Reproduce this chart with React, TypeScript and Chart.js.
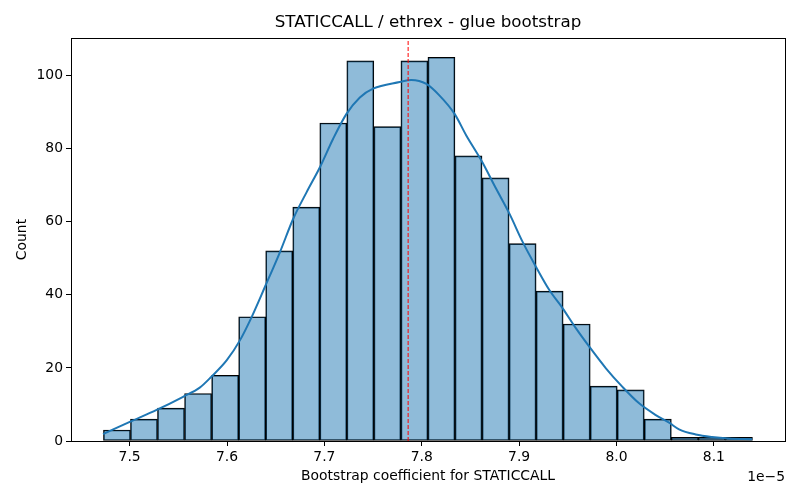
import React, { useEffect, useRef } from 'react';
import Chart from 'chart.js/auto';

// values are in units of 1e-5 (the axis offset text)
const binEdges = [
  7.4731, 7.5009, 7.5286, 7.5564, 7.5842, 7.612, 7.6397, 7.6675, 7.6953, 7.723,
  7.7508, 7.7786, 7.8063, 7.8341, 7.8619, 7.8897, 7.9174, 7.9452, 7.973, 8.0007,
  8.0285, 8.0563, 8.084, 8.1118, 8.1396,
];
const binCounts = [
  3, 6, 9, 13, 18, 34, 52, 64, 87, 104, 86, 104, 105, 78, 72, 54, 41, 32, 15, 14, 6, 1, 1, 1,
];

const kdeX = [
  7.4727, 7.5007, 7.5277, 7.5549, 7.572, 7.584, 7.5998, 7.6134, 7.6237, 7.639,
  7.6544, 7.668, 7.6818, 7.6954, 7.709, 7.7227, 7.7364, 7.75, 7.7774, 7.7893,
  7.8047, 7.8183, 7.8337, 7.8457, 7.8611, 7.8764, 7.89, 7.9037, 7.9174, 7.931,
  7.9447, 7.9584, 7.972, 7.9891, 8.0061, 8.0232, 8.0403, 8.054, 8.0642, 8.0813,
  8.098, 8.1155, 8.1393,
];
const kdeY = [
  1.9, 5.3, 8.5, 12.1, 14.6, 17.6, 22.1, 27.6, 33, 42.2,
  51.7, 60.8, 68.1, 74.9, 82.7, 89.5, 94, 96.4, 98.2, 98.8,
  97.7, 94.5, 89.5, 83.6, 76.8, 69, 62.2, 54.4, 47.6, 41.3,
  36.3, 30.8, 25.8, 19.9, 14.8, 10.3, 7.1, 5.0, 3.2, 1.8,
  1.1, 0.7, 0.5,
];

const meanValue = 7.786;

const xTicks = [7.5, 7.6, 7.7, 7.8, 7.9, 8.0, 8.1];
const yTicks = [0, 20, 40, 60, 80, 100];

const FONT = 'DejaVu Sans';

const framePlugin = {
  id: 'frame',
  afterDraw(chart: Chart) {
    const { ctx, chartArea } = chart;
    ctx.save();
    ctx.strokeStyle = '#000';
    ctx.lineWidth = 1;
    ctx.strokeRect(
      Math.round(chartArea.left) + 0.5,
      Math.round(chartArea.top) + 0.5,
      Math.round(chartArea.right - chartArea.left),
      Math.round(chartArea.bottom - chartArea.top)
    );
    ctx.fillStyle = '#000';
    ctx.font = `13.9px "${FONT}"`;
    ctx.textAlign = 'right';
    ctx.textBaseline = 'middle';
    ctx.fillText('1e\u22125', chartArea.right, 477);
    ctx.restore();
  },
};

const App = () => {
  const chartRef = useRef<HTMLCanvasElement>(null);
  const chartInstance = useRef<Chart>();

  useEffect(() => {
    document.body.style.margin = '0';
    if (chartInstance.current) {
      chartInstance.current.destroy();
    }
    const ctx = chartRef.current?.getContext('2d');
    if (!ctx) return;

    const bars = binCounts.map((c, i) => ({ x: (binEdges[i] + binEdges[i + 1]) / 2, y: c }));
    const kde = kdeX.map((x, i) => ({ x, y: kdeY[i] }));

    chartInstance.current = new Chart(ctx, {
      type: 'bar',
      data: {
        datasets: [
          {
            type: 'bar',
            data: bars,
            backgroundColor: 'rgba(31,119,180,0.5)',
            borderColor: '#000',
            borderWidth: 1,
            borderSkipped: false,
            barPercentage: 1,
            categoryPercentage: 1,
            order: 3,
          } as any,
          {
            type: 'line',
            data: kde,
            borderColor: '#1f77b4',
            borderWidth: 2,
            pointRadius: 0,
            cubicInterpolationMode: 'monotone',
            fill: false,
            order: 2,
          },
          {
            type: 'line',
            data: [
              { x: meanValue, y: 0 },
              { x: meanValue, y: 110.25 },
            ],
            borderColor: '#ff0000',
            borderWidth: 1,
            borderDash: [4, 2],
            pointRadius: 0,
            fill: false,
            order: 1,
          },
        ],
      },
      options: {
        animation: false,
        responsive: true,
        maintainAspectRatio: false,
        layout: { padding: { left: 0, right: 15, top: 0, bottom: 0 } },
        plugins: {
          legend: { display: false },
          tooltip: { enabled: false },
          title: {
            display: true,
            fullSize: false,
            text: 'STATICCALL / ethrex - glue bootstrap',
            color: '#000',
            font: { family: FONT, size: 16.7, weight: 'normal' },
            padding: { top: 13, bottom: 5 },
          },
        },
        scales: {
          x: {
            type: 'linear',
            min: 7.4398,
            max: 8.173,
            offset: false,
            afterBuildTicks: (s: any) => {
              s.ticks = xTicks.map((v) => ({ value: v }));
            },
            afterFit: (s: any) => {
              s.height = 59;
            },
            ticks: {
              color: '#000',
              font: { family: FONT, size: 13.9 },
              padding: 3,
              maxRotation: 0,
              autoSkip: false,
              callback: (v: any) => Number(v).toFixed(1),
            },
            grid: {
              display: true,
              drawOnChartArea: false,
              drawTicks: true,
              tickLength: 5,
              color: '#000',
              offset: false,
            },
            border: { display: false },
            title: {
              display: true,
              text: 'Bootstrap coefficient for STATICCALL',
              color: '#000',
              font: { family: FONT, size: 13.9 },
              padding: { top: 4, bottom: 15 },
            },
          },
          y: {
            min: 0,
            max: 110.25,
            afterBuildTicks: (s: any) => {
              s.ticks = yTicks.map((v) => ({ value: v }));
            },
            afterFit: (s: any) => {
              s.width = 71;
            },
            ticks: {
              color: '#000',
              font: { family: FONT, size: 13.9 },
              padding: 3,
              autoSkip: false,
            },
            grid: {
              display: true,
              drawOnChartArea: false,
              drawTicks: true,
              tickLength: 5,
              color: '#000',
            },
            border: { display: false },
            title: {
              display: true,
              text: 'Count',
              color: '#000',
              font: { family: FONT, size: 13.9 },
              padding: { top: 14, bottom: 4 },
            },
          },
        },
      },
      plugins: [framePlugin],
    });

    return () => {
      if (chartInstance.current) {
        chartInstance.current.destroy();
        chartInstance.current = undefined;
      }
    };
  }, []);

  return (
    <div style={{ width: 800, height: 500, position: 'relative', background: '#fff' }}>
      <canvas ref={chartRef} />
    </div>
  );
};

export default App;
